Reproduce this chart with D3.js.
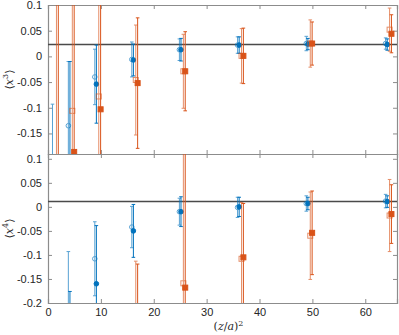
<!DOCTYPE html>
<html>
<head>
<meta charset="utf-8">
<script src="https://cdn.jsdelivr.net/npm/d3@7"></script>
<style>
  body { margin: 0; background: #fff; }
  svg { display: block; font-family: "Liberation Sans", Arial, sans-serif; }
  .tick text { font-size: 11px; fill: #262626; }
</style>
</head>
<body>
<svg id="chart" width="399" height="335"></svg>
<script>
// lattice points n^2
const zsq = [1, 4, 9, 16, 25, 36, 49, 64];

// <x^3> panel
const x3BlueOpen = [-0.22, -0.135, -0.040, -0.006, 0.013, 0.022, 0.025, 0.025];
const x3BlueOpenErr = [0.127, 0.125, 0.054, 0.034, 0.021, 0.016, 0.014, 0.011];
const x3BlueFill = [-0.40, -0.21, -0.054, -0.007, 0.013, 0.022, 0.024, 0.023];
const x3BlueFillErr = [0.10, 0.20, 0.076, 0.031, 0.022, 0.016, 0.011, 0.011];
const x3OrangeOpen = [-0.35, -0.106, -0.078, -0.046, -0.029, 0.001, 0.025, 0.052];
const x3OrangeOpenErr = [0.50, 0.30, 0.30, 0.107, 0.072, 0.053, 0.046, 0.042];
const x3OrangeFill = [-0.40, -0.186, -0.103, -0.052, -0.029, 0.001, 0.025, 0.044];
const x3OrangeFillErr = [0.55, 0.35, 0.30, 0.127, 0.077, 0.054, 0.042, 0.037];
const x3Ref = 0.023;

// <x^4> panel
const x4BlueOpen = [-0.50, -0.25, -0.108, -0.042, -0.010, -0.001, 0.007, 0.012];
const x4BlueOpenErr = [0.20, 0.157, 0.077, 0.043, 0.028, 0.021, 0.016, 0.014];
const x4BlueFill = [-0.60, -0.30, -0.160, -0.050, -0.010, 0.000, 0.007, 0.011];
const x4BlueFillErr = [0.20, 0.124, 0.121, 0.055, 0.031, 0.020, 0.013, 0.012];
const x4OrangeOpen = [-0.80, -0.70, -0.45, -0.30, -0.159, -0.108, -0.060, -0.018];
const x4OrangeOpenErr = [0.20, 0.20, 0.20, 0.187, 0.30, 0.117, 0.091, 0.075];
const x4OrangeFill = [-0.90, -0.80, -0.50, -0.35, -0.168, -0.105, -0.054, -0.015];
const x4OrangeFillErr = [0.20, 0.20, 0.20, 0.231, 0.30, 0.112, 0.087, 0.061];
const x4Ref = 0.011;

const xTicks = [0, 10, 20, 30, 40, 50, 60];
const y3Ticks = [0.1, 0.05, 0, -0.05, -0.1, -0.15];
const y4Ticks = [0.1, 0.05, 0, -0.05, -0.1, -0.15, -0.2];

const blue = "#0072BD", orange = "#D95319";
const left = 48, right = 397;

const svg = d3.select("#chart");
const x = d3.scaleLinear().domain([0, 66]).range([left, right]);

const panels = [
  { top: 5, bottom: 154, dom: [-0.19, 0.1], ticks: y3Ticks, ref: x3Ref, label: "3", xlabels: false,
    series: [
      { v: x3BlueOpen, e: x3BlueOpenErr, c: blue, open: true, shape: "circle", dx: -0.15 },
      { v: x3BlueFill, e: x3BlueFillErr, c: blue, open: false, shape: "circle", dx: 0.15 },
      { v: x3OrangeOpen, e: x3OrangeOpenErr, c: orange, open: true, shape: "square", dx: 0.6 },
      { v: x3OrangeFill, e: x3OrangeFillErr, c: orange, open: false, shape: "square", dx: 0.95 }
    ] },
  { top: 154, bottom: 303, dom: [-0.2, 0.11], ticks: y4Ticks, ref: x4Ref, label: "4", xlabels: true,
    series: [
      { v: x4BlueOpen, e: x4BlueOpenErr, c: blue, open: true, shape: "circle", dx: -0.15 },
      { v: x4BlueFill, e: x4BlueFillErr, c: blue, open: false, shape: "circle", dx: 0.15 },
      { v: x4OrangeOpen, e: x4OrangeOpenErr, c: orange, open: true, shape: "square", dx: 0.6 },
      { v: x4OrangeFill, e: x4OrangeFillErr, c: orange, open: false, shape: "square", dx: 0.95 }
    ] }
];

panels.forEach((p, i) => {
  const y = d3.scaleLinear().domain(p.dom).range([p.bottom, p.top]);
  const g = svg.append("g");
  const clipId = "clip" + i;
  svg.append("clipPath").attr("id", clipId)
    .append("rect").attr("x", left).attr("y", p.top).attr("width", right - left).attr("height", p.bottom - p.top);

  // axes with inward ticks on all sides
  const axL = g.append("g").attr("transform", `translate(${left},0)`)
    .call(d3.axisLeft(y).tickValues(p.ticks).tickSize(-4).tickPadding(6));
  const axR = g.append("g").attr("transform", `translate(${right},0)`)
    .call(d3.axisRight(y).tickValues(p.ticks).tickSize(-4).tickFormat(""));
  const axT = g.append("g").attr("transform", `translate(0,${p.top})`)
    .call(d3.axisTop(x).tickValues(xTicks).tickSize(-4).tickFormat(""));
  const axB = g.append("g").attr("transform", `translate(0,${p.bottom})`)
    .call(d3.axisBottom(x).tickValues(xTicks).tickSize(-4).tickPadding(5).tickFormat(p.xlabels ? d3.format("d") : ""));
  [axL, axR, axT, axB].forEach(a => {
    a.select(".domain").attr("stroke", "#8c8c8c").attr("stroke-width", 1.2);
    a.selectAll(".tick line").attr("stroke", "#8c8c8c");
  });
  axL.selectAll(".tick text").text(d => d === 0 ? "0" : String(d));

  const plot = g.append("g").attr("clip-path", `url(#${clipId})`);

  // reference line
  plot.append("line")
    .attr("x1", left).attr("x2", right)
    .attr("y1", y(p.ref)).attr("y2", y(p.ref))
    .attr("stroke", "#4a4a4a").attr("stroke-width", 1.5);

  p.series.forEach(s => {
    const pts = zsq.map((z, k) => ({ z: z + s.dx, v: s.v[k], e: s.e[k] }));
    const sg = plot.append("g").attr("opacity", s.open ? 0.65 : 1);
    const eb = sg.selectAll("g.eb").data(pts).enter().append("g").attr("class", "eb")
      .attr("stroke", s.c).attr("stroke-width", 1);
    eb.append("line")
      .attr("x1", d => x(d.z)).attr("x2", d => x(d.z))
      .attr("y1", d => y(d.v - d.e)).attr("y2", d => y(d.v + d.e));
    [1, -1].forEach(sign => {
      eb.append("line")
        .attr("x1", d => x(d.z) - 1.8).attr("x2", d => x(d.z) + 1.8)
        .attr("y1", d => y(d.v + sign * d.e)).attr("y2", d => y(d.v + sign * d.e));
    });
    if (s.shape === "circle") {
      sg.selectAll("circle").data(pts).enter().append("circle")
        .attr("cx", d => x(d.z)).attr("cy", d => y(d.v)).attr("r", 2.3)
        .attr("fill", s.open ? "none" : s.c).attr("stroke", s.c).attr("stroke-width", 1);
    } else {
      sg.selectAll("rect.m").data(pts).enter().append("rect").attr("class", "m")
        .attr("x", d => x(d.z) - 2.5).attr("y", d => y(d.v) - 2.5)
        .attr("width", 5).attr("height", 5)
        .attr("fill", s.open ? "none" : s.c).attr("stroke", s.c).attr("stroke-width", 1);
    }
  });

  // y label
  const lab = svg.append("text")
    .attr("transform", `translate(13,${(p.top + p.bottom) / 2}) rotate(-90)`)
    .attr("text-anchor", "middle")
    .attr("font-family", "DejaVu Serif, serif")
    .attr("font-size", 11).attr("fill", "#262626");
  lab.append("tspan").text("⟨");
  lab.append("tspan").attr("font-style", "italic").text("x");
  lab.append("tspan").attr("font-size", 8).attr("dy", -5).text(p.label);
  lab.append("tspan").attr("dy", 5).text("⟩");
});

// x label
const xl = svg.append("text")
  .attr("x", (left + right) / 2 + 6).attr("y", 330)
  .attr("text-anchor", "middle")
  .attr("font-family", "DejaVu Serif, serif")
  .attr("font-size", 11).attr("fill", "#262626");
xl.append("tspan").text("(");
xl.append("tspan").attr("font-style", "italic").text("z");
xl.append("tspan").text("/");
xl.append("tspan").attr("font-style", "italic").text("a");
xl.append("tspan").text(")");
xl.append("tspan").attr("font-size", 8).attr("dy", -4).text("2");
</script>
</body>
</html>
